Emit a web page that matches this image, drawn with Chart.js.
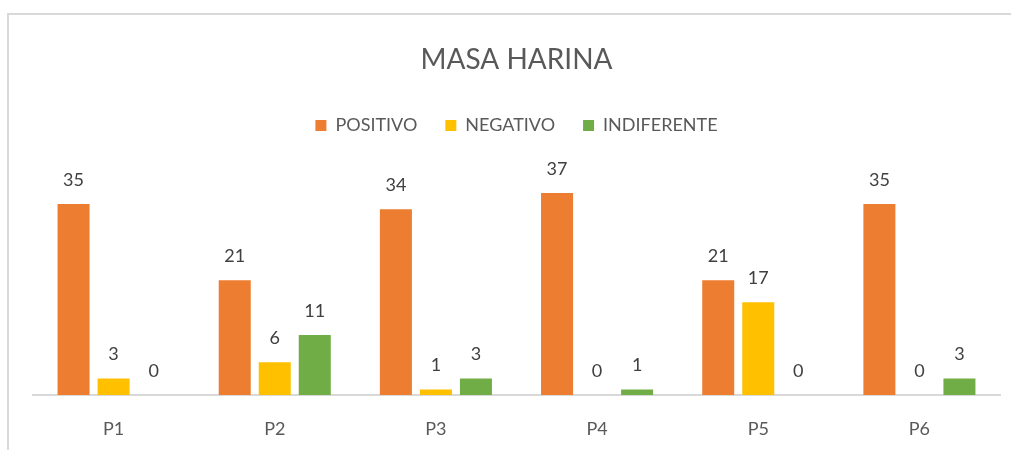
<!DOCTYPE html>
<html><head><meta charset="utf-8">
<script src="https://cdn.jsdelivr.net/npm/chart.js@4.4.1/dist/chart.umd.min.js"></script>
<style>html,body{margin:0;padding:0;background:#fff}#wrap{width:1011px;height:450px;position:relative}</style>
</head><body><div id="wrap"><canvas id="c" width="1011" height="450"></canvas></div>
<script>
const categories = ["P1","P2","P3","P4","P5","P6"];
const positivo = [35,21,34,37,21,35];
const negativo = [3,6,1,0,17,0];
const indiferente = [0,11,3,1,0,3];
const seriesNames = ["POSITIVO","NEGATIVO","INDIFERENTE"];
const FONT = "Lato, 'Open Sans', 'DejaVu Sans', sans-serif";

const borderPlugin = {
  id:'frame',
  beforeDraw(chart){
    const c = chart.ctx; c.save();
    c.strokeStyle = '#d9d9d9'; c.lineWidth = 2;
    c.beginPath(); c.moveTo(8,1000); c.lineTo(8,14); c.lineTo(1011,14); c.stroke();
    c.restore();
  }
};
const legendGap = {
  id:'legendGap',
  beforeInit(chart){
    const orig = chart.legend.fit;
    chart.legend.fit = function(){ orig.bind(chart.legend)(); this.height += 32; };
  }
};
const labelPlugin = {
  id:'vals',
  afterDatasetsDraw(chart){
    const c = chart.ctx; c.save();
    c.font = '18px ' + FONT; c.fillStyle = '#404040';
    c.textAlign = 'center'; c.textBaseline = 'middle';
    chart.data.datasets.forEach((ds,i)=>{
      chart.getDatasetMeta(i).data.forEach((bar,j)=>{
        c.fillText(String(ds.data[j]), bar.x, bar.y - 24);
      });
    });
    c.restore();
  }
};

new Chart(document.getElementById('c'), {
  type:'bar',
  data:{
    labels:categories,
    datasets:[
      {label:seriesNames[0], data:positivo, backgroundColor:'#ED7D31'},
      {label:seriesNames[1], data:negativo, backgroundColor:'#FFC000'},
      {label:seriesNames[2], data:indiferente, backgroundColor:'#70AD47'}
    ]
  },
  options:{
    responsive:false, animation:false,
    devicePixelRatio:1,
    layout:{padding:{left:33,right:11,top:43,bottom:0}},
    datasets:{bar:{categoryPercentage:0.745, barPercentage:0.8}},
    plugins:{
      title:{display:true, text:'MASA HARINA', color:'#595959', font:{family:FONT,size:28,weight:'normal'}, padding:{top:0,bottom:12}},
      legend:{display:true, labels:{color:'#595959', font:{family:FONT,size:18}, boxWidth:11, boxHeight:11, padding:28}},
      tooltip:{enabled:false}
    },
    scales:{
      x:{grid:{display:false}, border:{display:true,color:'#d9d9d9',width:2},
         ticks:{color:'#595959', font:{family:FONT,size:18}, padding:15},
         afterFit(scale){ scale.height = 55; }},
      y:{display:false, min:0, max:40, grid:{display:false}}
    }
  },
  plugins:[borderPlugin,legendGap,labelPlugin]
});
</script></body></html>
